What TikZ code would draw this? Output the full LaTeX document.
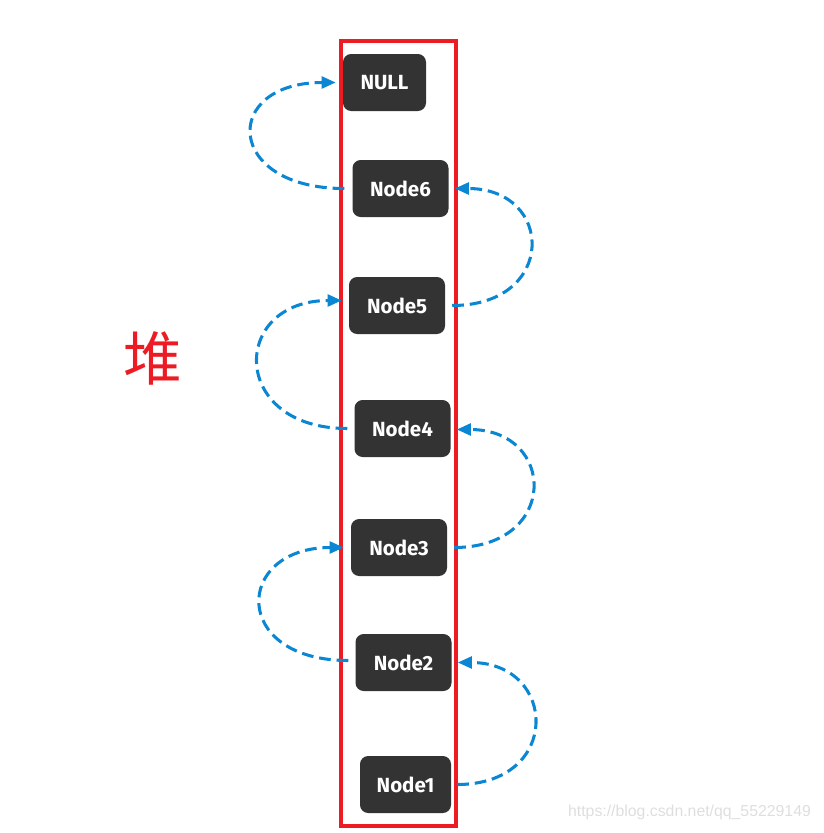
\documentclass[tikz,border=0pt]{standalone}
\usepackage{fontspec}
\usepackage{xcolor}
\usetikzlibrary{calc}
\usetikzlibrary{arrows.meta}
\newfontfamily\nodefont{Fira Sans}
\newfontfamily\cjkfont{Noto Sans CJK SC}
\newfontfamily\markfont{Liberation Sans}
\definecolor{nodegray}{HTML}{333333}
\definecolor{linkblue}{HTML}{0A86D2}
\definecolor{stackred}{HTML}{ED1C24}
\tikzset{
  stacknode/.style={fill=nodegray, text=white, rounded corners=7pt, minimum width=2.88cm, minimum height=1.71cm, font=\nodefont\bfseries\fontsize{17.5}{20}\selectfont, inner sep=0pt},
  link/.style={linkblue, line width=2.6pt, dash pattern=on 10pt off 5pt, -{Triangle[length=12pt, width=10pt]}},
}
\begin{document}
\begin{tikzpicture}[x=0.03cm, y=-0.03cm]
\useasboundingbox (0, 0) rectangle (824, 833);

\node[stacknode, minimum width=2.49cm] (nnull) at (384.5, 82.5) {NULL};
\node[stacknode] (n6) at (400.5, 188.5) {Node6};
\node[stacknode] (n5) at (397, 305.5) {Node5};
\node[stacknode] (n4) at (402.5, 428.5) {Node4};
\node[stacknode] (n3) at (399, 547.5) {Node3};
\node[stacknode] (n2) at (403.5, 662.5) {Node2};
\node[stacknode, minimum width=2.73cm] (n1) at (405.5, 784.5) {Node1};

% the stack
\draw[stackred, line width=3.4pt] (341, 41) rectangle (456, 826);
\node[text=stackred, font=\cjkfont\fontsize{50}{52}\selectfont] (dui) at (153, 358) {堆};

% links
\draw[link] ($(n6.west)+(-8,0)$) .. controls +(-120,0) and +(-115,0) .. ($(nnull.west)+(-7,0)$);
\draw[link] ($(n5.east)+(7,0)$) .. controls +(105,0) and +(100,0) .. ($(n6.east)+(6,0)$);
\draw[link] ($(n4.west)+(-7,0)$) .. controls +(-118,0) and +(-112,0) .. ($(n5.west)+(-7,-5)$);
\draw[link] ($(n3.east)+(7,0)$) .. controls +(105,0) and +(100,0) .. ($(n4.east)+(6,1)$);
\draw[link] ($(n2.west)+(-7,-2)$) .. controls +(-118,0) and +(-110,0) .. ($(n3.west)+(-7,0)$);
\draw[link] ($(n1.east)+(6,0)$) .. controls +(105,0) and +(100,0) .. ($(n2.east)+(6,0)$);

\node[text=black!13, font=\markfont\fontsize{13.5}{15}\selectfont, anchor=east] (mark) at (815, 812) {https://blog.csdn.net/qq\_55229149};
\end{tikzpicture}
\end{document}
